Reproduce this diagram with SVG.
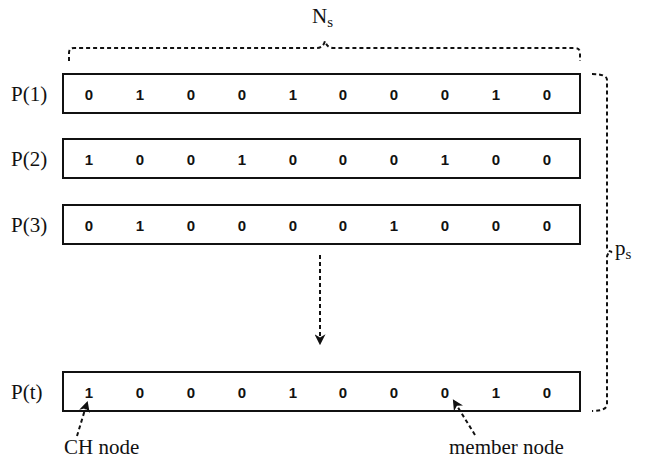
<svg xmlns="http://www.w3.org/2000/svg" width="651" height="462" viewBox="0 0 651 462">
<defs>
<style>
.box{fill:#fff;stroke:#111;stroke-width:2}
.lbl{font-family:"Liberation Serif",serif;font-size:21px;fill:#111}
.bit{font-family:"Liberation Sans",Arial,sans-serif;font-size:15px;font-weight:bold;fill:#111;text-anchor:middle}
.dash{fill:none;stroke:#111;stroke-width:2;stroke-dasharray:4,3}
</style>
<marker id="ah" viewBox="0 0 10 10" refX="8" refY="5" markerWidth="5.5" markerHeight="5.5" orient="auto">
<path d="M0,0 L10,5 L0,10 L3,5 Z" fill="#111"/>
</marker>
</defs>
<rect width="651" height="462" fill="#fff"/>
<g id="Ns">
<text class="lbl" x="312" y="23" font-size="22">N<tspan font-size="15" dy="4">s</tspan></text>
</g>
<g id="p1">
<text class="lbl" x="11" y="101">P(1)</text>
<rect class="box" x="63" y="74" width="517" height="39"/>
<text class="bit" x="89" y="100">0</text><text class="bit" x="140" y="100">1</text><text class="bit" x="191" y="100">0</text><text class="bit" x="242" y="100">0</text><text class="bit" x="293" y="100">1</text><text class="bit" x="343" y="100">0</text><text class="bit" x="394" y="100">0</text><text class="bit" x="445" y="100">0</text><text class="bit" x="496" y="100">1</text><text class="bit" x="547" y="100">0</text>
</g>
<g id="p2">
<text class="lbl" x="11" y="166">P(2)</text>
<rect class="box" x="63" y="139" width="517" height="39"/>
<text class="bit" x="89" y="165">1</text><text class="bit" x="140" y="165">0</text><text class="bit" x="191" y="165">0</text><text class="bit" x="242" y="165">1</text><text class="bit" x="293" y="165">0</text><text class="bit" x="343" y="165">0</text><text class="bit" x="394" y="165">0</text><text class="bit" x="445" y="165">1</text><text class="bit" x="496" y="165">0</text><text class="bit" x="547" y="165">0</text>
</g>
<g id="p3">
<text class="lbl" x="11" y="232">P(3)</text>
<rect class="box" x="63" y="205" width="517" height="39"/>
<text class="bit" x="89" y="231">0</text><text class="bit" x="140" y="231">1</text><text class="bit" x="191" y="231">0</text><text class="bit" x="242" y="231">0</text><text class="bit" x="293" y="231">0</text><text class="bit" x="343" y="231">0</text><text class="bit" x="394" y="231">1</text><text class="bit" x="445" y="231">0</text><text class="bit" x="496" y="231">0</text><text class="bit" x="547" y="231">0</text>
</g>
<g id="pt">
<text class="lbl" x="11" y="399">P(t)</text>
<rect class="box" x="63" y="372" width="517" height="39"/>
<text class="bit" x="89" y="398">1</text><text class="bit" x="140" y="398">0</text><text class="bit" x="191" y="398">0</text><text class="bit" x="242" y="398">0</text><text class="bit" x="293" y="398">1</text><text class="bit" x="343" y="398">0</text><text class="bit" x="394" y="398">0</text><text class="bit" x="445" y="398">0</text><text class="bit" x="496" y="398">1</text><text class="bit" x="547" y="398">0</text>
</g>
<g id="ch">
<text class="lbl" x="64" y="454">CH node</text>
</g>
<g id="member">
<text class="lbl" x="449" y="454">member node</text>
</g>
<g id="ps">
<text class="lbl" x="615" y="255" font-size="22">p<tspan font-size="15" dy="4">s</tspan></text>
</g>
<g id="connectors">
<path class="dash" d="M69,61 V53 Q69,48 74,48 H317 Q323,48 325,41 Q327,48 333,48 H575 Q580,48 580,53 V61"/>
<path class="dash" d="M592,74 Q607,74 607,80 V247 Q607,251 612,252 Q607,253 607,257 V404 Q607,411 592,411"/>
<path class="dash" d="M320,255 V343" marker-end="url(#ah)"/>
<path class="dash" d="M77,436 L87,403" marker-end="url(#ah)"/>
<path class="dash" d="M475,435 L454,401" marker-end="url(#ah)"/>
</g>
</svg>
